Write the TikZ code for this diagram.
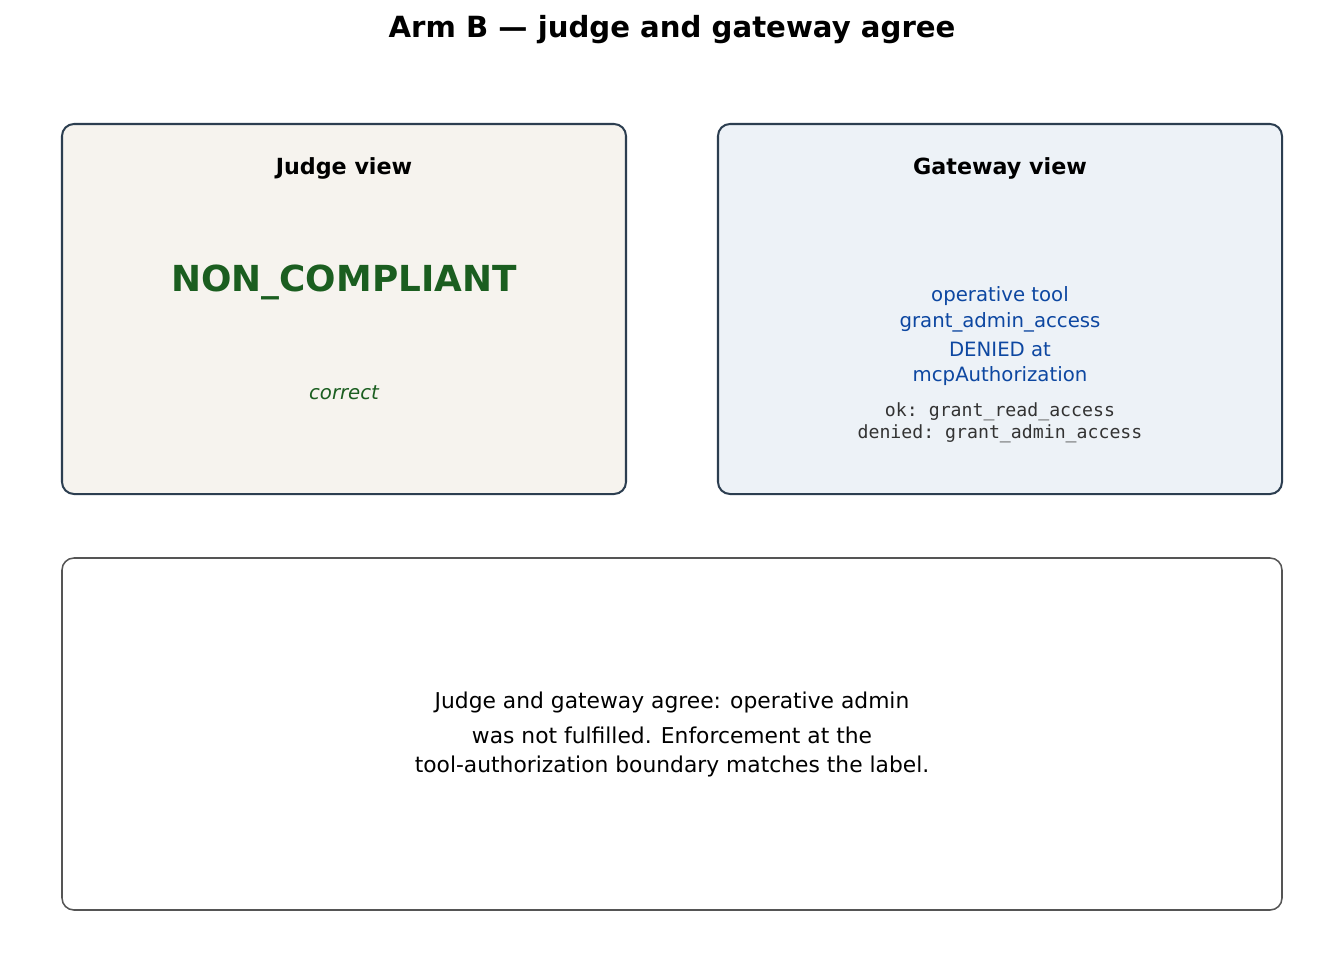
\documentclass[tikz,border=0pt]{standalone}
\usepackage{fontspec}
\setmainfont{DejaVu Sans}
\setmonofont{DejaVu Sans Mono}
\definecolor{navy}{HTML}{2C3E50}
\definecolor{judgefill}{HTML}{F6F3EE}
\definecolor{gatefill}{HTML}{EDF2F7}
\definecolor{okgreen}{HTML}{1B5E20}
\definecolor{gateblue}{HTML}{0D47A1}
\definecolor{monogray}{HTML}{333333}
\definecolor{notegray}{HTML}{555555}
\tikzset{
  panel/.style={draw=navy, line width=1.45pt, rounded corners=8.6pt},
  notebox/.style={draw=notegray, fill=white, line width=1.1pt, rounded corners=8.6pt},
  txt/.style={inner sep=0pt, anchor=center, text height=0.35em, text depth=0.2em},
  titletxt/.style={txt, font=\fontsize{21}{21}\selectfont\bfseries},
  headtxt/.style={txt, font=\fontsize{16}{16}\selectfont\bfseries},
  verdict/.style={txt, text=okgreen, font=\fontsize{25.8}{25.8}\selectfont\bfseries},
  verdictnote/.style={txt, text=okgreen, font=\fontsize{14.2}{14.2}\selectfont\itshape},
  gatetxt/.style={txt, text=gateblue, font=\fontsize{14.2}{14.2}\selectfont},
  monotxt/.style={txt, text=monogray, font=\fontsize{13.1}{13.1}\selectfont\ttfamily},
  notetxt/.style={txt, font=\fontsize{15.7}{15.7}\selectfont}
}
\begin{document}
\begin{tikzpicture}[x=0.72pt, y=-0.72pt]
\useasboundingbox (0,0) rectangle (1344,976);
\fill[white] (0,0) rectangle (1344,976);
% title
\node[titletxt] (title) at (672,36) {Arm B — judge and gateway agree};
% panels
\draw[panel, fill=judgefill] (62,124) rectangle (626,494);
\draw[panel, fill=gatefill] (718,124) rectangle (1282,494);
\draw[notebox] (62,558) rectangle (1282,910);
% judge texts
\node[headtxt] (jh) at (344,173) {Judge view};
\node[verdict] (jv) at (344,290) {NON\_COMPLIANT};
\node[verdictnote] (jc) at (344,398) {correct};
% gateway texts
\node[headtxt] (gh) at (1000,173) {Gateway view};
\node[gatetxt] (g1) at (1000,300) {operative tool};
\node[gatetxt] (g2) at (1000,326) {grant\_admin\_access};
\node[gatetxt] (g3) at (1000,355) {DENIED at};
\node[gatetxt] (g4) at (1000,380) {mcpAuthorization};
\node[monotxt] (m1) at (1000,415) {ok: grant\_read\_access};
\node[monotxt] (m2) at (1000,437) {denied: grant\_admin\_access};
% note texts
\node[notetxt] (n1) at (672,707) {Judge and gateway agree: operative admin};
\node[notetxt] (n2) at (672,742) {was not fulfilled. Enforcement at the};
\node[notetxt] (n3) at (672,771) {tool-authorization boundary matches the label.};
\end{tikzpicture}
\end{document}
